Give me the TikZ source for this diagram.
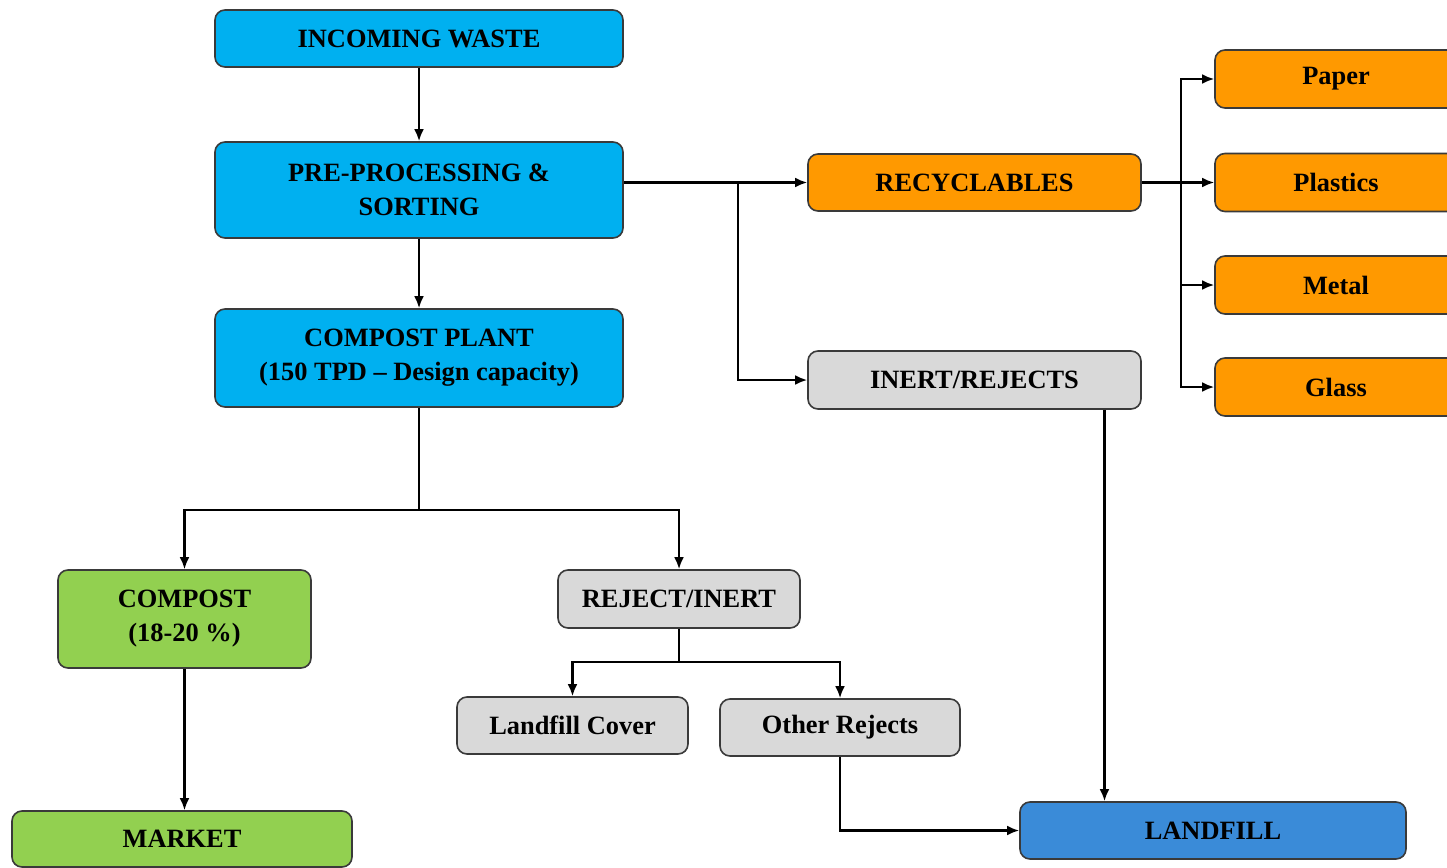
\documentclass[tikz,border=0pt]{standalone}
\usepackage{fontspec}
\setmainfont{Liberation Serif}
\usepackage{xcolor}
\usepackage{tikz}
\usetikzlibrary{arrows.meta,positioning,calc}

\definecolor{cyanbox}{HTML}{00B0F0}
\definecolor{orangebox}{HTML}{FF9900}
\definecolor{greenbox}{HTML}{92D050}
\definecolor{greybox}{HTML}{D9D9D9}
\definecolor{bluebox}{HTML}{3A8BD8}
\definecolor{edge}{HTML}{3A3A3A}

\begin{document}
\begin{tikzpicture}[
  x=0.5pt, y=-0.5pt,
  font=\fontsize{13.2}{17}\selectfont\bfseries,
  box/.style={rectangle, rounded corners=5pt, draw=edge, line width=0.8pt,
              inner sep=0pt, align=center},
  arr/.style={-{Latex[length=6pt,width=5pt]}, line width=1.3pt},
  line/.style={line width=1.3pt},
]
\useasboundingbox (0,0) rectangle (1447,868);

% Main line
\node[box, fill=cyanbox, minimum width=204pt, minimum height=28.5pt]
  (incoming) at (419,38.5) {INCOMING WASTE};
\node[box, fill=cyanbox, minimum width=204pt, minimum height=48pt]
  (preproc) at (419,190) {PRE-PROCESSING \&\\SORTING};
\node[box, fill=cyanbox, minimum width=204pt, minimum height=49pt]
  (plant) at (419,358) {COMPOST PLANT\\(150 TPD -- Design capacity)};

% Recyclables and rejects from sorting
\node[box, fill=orangebox, minimum width=166.5pt, minimum height=28.5pt]
  (recyc) at (974.5,182.5) {RECYCLABLES};
\node[box, fill=greybox, minimum width=166.5pt, minimum height=29pt]
  (inertrej) at (974.5,380) {INERT/REJECTS};

% Recyclable fractions
\node[box, fill=orangebox, minimum width=121pt, minimum height=29pt]
  (paper) at (1336,79) {Paper};
\node[box, fill=orangebox, minimum width=121pt, minimum height=29pt]
  (plastics) at (1336,182.5) {Plastics};
\node[box, fill=orangebox, minimum width=121pt, minimum height=29pt]
  (metal) at (1336,285) {Metal};
\node[box, fill=orangebox, minimum width=121pt, minimum height=29pt]
  (glass) at (1336,387) {Glass};

% Plant outputs
\node[box, fill=greenbox, minimum width=126.5pt, minimum height=49pt]
  (compost) at (184.5,619) {COMPOST\\(18-20 \%)};
\node[box, fill=greenbox, minimum width=170pt, minimum height=28pt]
  (market) at (182,839) {MARKET};
\node[box, fill=greybox, minimum width=121pt, minimum height=29pt]
  (rejinert) at (679,599) {REJECT/INERT};
\node[box, fill=greybox, minimum width=115.5pt, minimum height=28.5pt]
  (lcover) at (572.5,725.5) {Landfill Cover};
\node[box, fill=greybox, minimum width=120pt, minimum height=28.5pt]
  (orej) at (840,727.5) {Other Rejects};

% Landfill
\node[box, fill=bluebox, minimum width=193pt, minimum height=28.5pt]
  (landfill) at (1213,830.5) {LANDFILL};

% Junction points
\coordinate (split) at (738,182.5);
\coordinate (bus) at (1181,182.5);
\coordinate (fork1) at (419,510);
\coordinate (fork2) at (679,662);

% Arrows
\draw[arr] (incoming) -- (preproc);
\draw[arr] (preproc) -- (plant);
\draw[arr] (recyc.west -| preproc.east) -- (recyc.west);
\draw[arr] (split) |- (inertrej.west);
\draw[arr] (recyc.east) -- (plastics.west);
\draw[arr] (bus) |- (paper.west);
\draw[arr] (bus) |- (metal.west);
\draw[arr] (bus) |- (glass.west);

\draw[line] (plant.south) -- (fork1);
\draw[arr] (fork1) -| (compost.north);
\draw[arr] (fork1) -| (rejinert.north);
\draw[arr] (compost.south) -- (compost.south |- market.north);

\draw[line] (rejinert.south) -- (fork2);
\draw[arr] (fork2) -| (lcover.north);
\draw[arr] (fork2) -| (orej.north);
\draw[arr] (orej.south) |- (landfill.west);
\draw[arr] ([xshift=65pt]inertrej.south)
  -- ([xshift=65pt]inertrej.south |- landfill.north);

\end{tikzpicture}
\end{document}
